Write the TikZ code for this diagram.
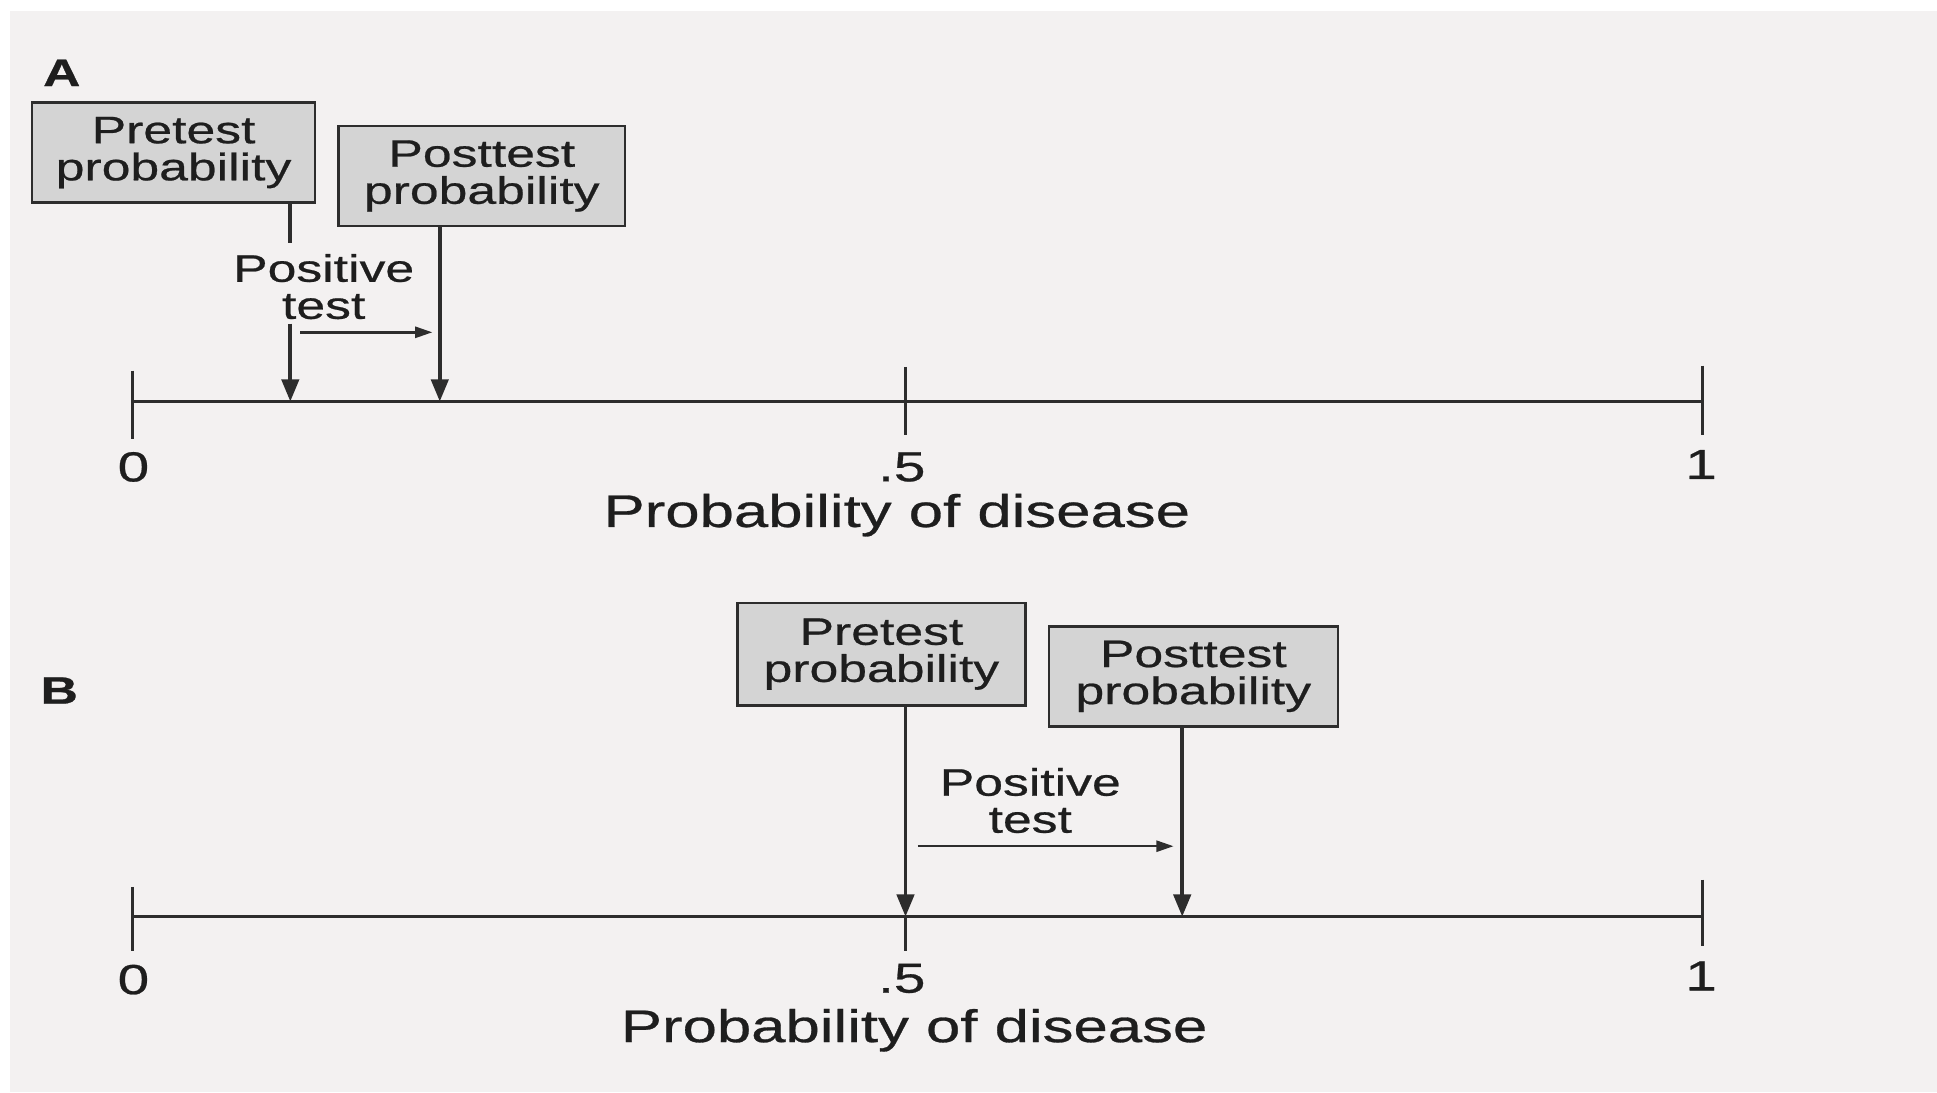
\documentclass[tikz,border=0pt]{standalone}
\usepackage{fontspec}
\setmainfont{Liberation Sans}[FakeStretch=1.35,FakeBold=0.6]
\usetikzlibrary{arrows.meta}
\definecolor{scanbg}{RGB}{243,241,241}
\definecolor{boxfill}{RGB}{212,212,212}
\definecolor{inkline}{RGB}{45,45,45}
\definecolor{inktext}{RGB}{30,30,30}
\begin{document}
\begin{tikzpicture}[x=0.5pt,y=-0.5pt,
  probbox/.style={draw=inkline, fill=boxfill, line width=1pt, align=center,
    inner sep=0pt, minimum height=40.5pt, text=inktext,
    font=\fontsize{15.5}{15}\selectfont},
  vline/.style={draw=inkline, line width=1.5pt},
  vtip/.style={vline, -{Triangle[width=7pt,length=9pt]}},
  smallarrow/.style={draw=inkline, line width=1pt, -{Triangle[width=4.5pt,length=7pt]}},
  axisline/.style={draw=inkline, line width=1.2pt},
  ticklabel/.style={text=inktext, font=\fontsize{17}{17}\selectfont, inner sep=0pt},
  axislabel/.style={text=inktext, font=\fontsize{18.5}{18.5}\selectfont, inner sep=0pt},
  testlabel/.style={text=inktext, align=center, inner sep=0pt, font=\fontsize{15.5}{15}\selectfont},
  panellabel/.style={text=inktext, inner sep=0pt, font=\fontsize{15.5}{15}\selectfont\bfseries}]
\useasboundingbox (0,0) rectangle (1568,884);
\fill[white] (0,0) rectangle (1568,884);
\fill[scanbg] (8,9) rectangle (1568,884);

% ---------------- Panel A ----------------
\node[panellabel] (labA) at (50,59) {A};
\node[probbox, minimum width=114.5pt] (preA) at (140.5,123.5) {Pretest\\probability};
\node[probbox, minimum width=116pt] (postA) at (390,142.5) {Posttest\\probability};

\coordinate (axA0) at (107,325);
\coordinate (axA1) at (1378,325);
\draw[axisline] (axA0) -- (axA1);
\draw[axisline] (107,300) -- (107,355);
\draw[axisline] (733,297) -- (733,352);
\draw[axisline] (1378,296) -- (1378,352);

\coordinate (pA) at (235,325);
\coordinate (qA) at (356,325);
\coordinate (gapAtop) at (235,197);
\coordinate (gapAbot) at (235,262);
\draw[vline] (preA.south -| pA) -- (gapAtop);
\draw[vtip] (gapAbot) -- (pA);
\draw[vtip] (postA.south -| qA) -- (qA);
\node[testlabel] (posA) at (262,232) {Positive\\test};
\coordinate (sA0) at (243,269);
\coordinate (sA1) at (350,269);
\draw[smallarrow] (sA0) -- (sA1);

\node[ticklabel] (zA) at (108,378) {0};
\node[ticklabel] (hA) at (730,378) {.5};
\node[ticklabel] (oA) at (1377,376) {1};
\node[axislabel] (xlA) at (726,417) {Probability of disease};

% ---------------- Panel B ----------------
\node[panellabel] (labB) at (48,559) {B};
\node[probbox, minimum width=116.5pt, minimum height=41.5pt] (preB) at (713.5,529.5) {Pretest\\probability};
\node[probbox, minimum width=117pt] (postB) at (966,547.5) {Posttest\\probability};

\coordinate (axB0) at (107,742);
\coordinate (axB1) at (1378,742);
\draw[axisline] (axB0) -- (axB1);
\draw[axisline] (107,718) -- (107,770);
\draw[axisline] (733,742) -- (733,770);
\draw[axisline] (1378,712) -- (1378,766);

\coordinate (pB) at (733,742);
\coordinate (qB) at (957,742);
\draw[vtip] (preB.south -| pB) -- (pB);
\draw[vtip] (postB.south -| qB) -- (qB);
\node[testlabel] (posB) at (834,648) {Positive\\test};
\coordinate (sB0) at (743,685);
\coordinate (sB1) at (950,685);
\draw[smallarrow] (sB0) -- (sB1);

\node[ticklabel] (zB) at (108,793) {0};
\node[ticklabel] (hB) at (730,792) {.5};
\node[ticklabel] (oB) at (1377,790) {1};
\node[axislabel] (xlB) at (740,834) {Probability of disease};
\end{tikzpicture}
\end{document}
